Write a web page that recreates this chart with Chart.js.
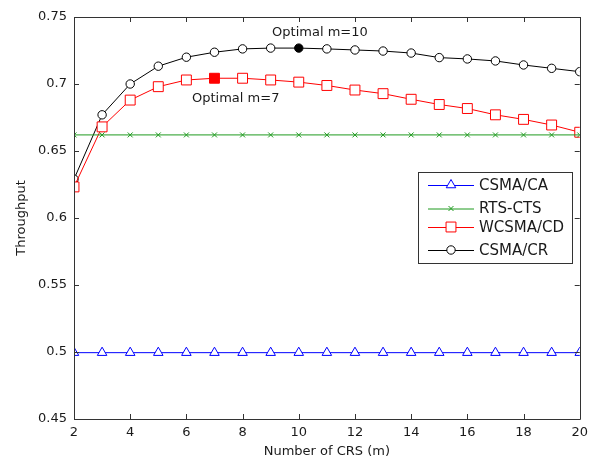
<!DOCTYPE html>
<html>
<head>
<meta charset="utf-8">
<script src="https://cdn.jsdelivr.net/npm/chart.js@4"></script>
<style>
  html, body { margin: 0; padding: 0; background: #fff; }
  #throughput-chart { display: block; }
</style>
</head>
<body>
<canvas id="throughput-chart" width="594" height="459"></canvas>
<script>
// number of CRS (m) on the x axis
const mValues = [2, 3, 4, 5, 6, 7, 8, 9, 10, 11, 12, 13, 14, 15, 16, 17, 18, 19, 20];

const csmaCA  = [0.4995, 0.4995, 0.4995, 0.4995, 0.4995, 0.4995, 0.4995, 0.4995, 0.4995, 0.4995,
                 0.4995, 0.4995, 0.4995, 0.4995, 0.4995, 0.4995, 0.4995, 0.4995, 0.4995];
const rtsCTS  = [0.662, 0.662, 0.662, 0.662, 0.662, 0.662, 0.662, 0.662, 0.662, 0.662,
                 0.662, 0.662, 0.662, 0.662, 0.662, 0.662, 0.662, 0.662, 0.662];
const wcsmaCD = [0.6232, 0.668, 0.688, 0.698, 0.703, 0.7043, 0.7043, 0.703, 0.7014, 0.6989,
                 0.6955, 0.6928, 0.6886, 0.6847, 0.6817, 0.677, 0.6736, 0.6694, 0.664];
const csmaCR  = [0.629, 0.677, 0.700, 0.7133, 0.720, 0.7237, 0.7262, 0.7268, 0.7268, 0.7262,
                 0.7254, 0.7246, 0.7231, 0.7197, 0.7187, 0.7172, 0.7142, 0.7117, 0.7092];

const optimalCD = 7;
const optimalCR = 10;

const xTicks = [2, 4, 6, 8, 10, 12, 14, 16, 18, 20];
const yTicks = [0.45, 0.5, 0.55, 0.6, 0.65, 0.7, 0.75];

const notes = [
    { x: 9.05, y: 0.7386, text: "Optimal m=10" },
    { x: 6.2, y: 0.6893, text: "Optimal m=7" }
];

const FONT = "'DejaVu Sans', Verdana, sans-serif";
const AXIS_COLOR = "#333333";
const TEXT_COLOR = "#1a1a1a";

function toPoints(values) {
    return values.map((v, i) => ({ x: mValues[i], y: v }));
}

function fillAt(optimal, color) {
    return mValues.map(m => m === optimal ? color : "#ffffff");
}

const series = [
    { label: "CSMA/CA",  data: csmaCA,  color: "#0000ff", style: "triangle", radius: 5.5 },
    { label: "RTS-CTS",  data: rtsCTS,  color: "#1f9a1f", style: "crossRot", radius: 3.5 },
    { label: "WCSMA/CD", data: wcsmaCD, color: "#ff0000", style: "rect",     radius: 7, optimal: optimalCD },
    { label: "CSMA/CR",  data: csmaCR,  color: "#000000", style: "circle",   radius: 4.2, optimal: optimalCR }
];

const datasets = series.map(s => ({
    label: s.label,
    data: toPoints(s.data),
    borderColor: s.color,
    borderWidth: 1,
    pointStyle: s.style,
    pointRadius: s.radius,
    pointBorderColor: s.color,
    pointBorderWidth: 1,
    pointBackgroundColor: s.optimal ? fillAt(s.optimal, s.color) : "#ffffff",
    fill: false,
    tension: 0
}));

// box round the plot with inward ticks on all four sides (MATLAB look)
const boxTicks = {
    id: "boxTicks",
    afterDatasetsDraw(chart) {
        const { ctx, chartArea: a, scales } = chart;
        const len = 5;
        ctx.save();
        ctx.strokeStyle = AXIS_COLOR;
        ctx.lineWidth = 1;
        ctx.beginPath();
        ctx.rect(Math.round(a.left) + 0.5, Math.round(a.top) + 0.5,
                 Math.round(a.right - a.left), Math.round(a.bottom - a.top));
        xTicks.forEach(t => {
            const px = Math.round(scales.x.getPixelForValue(t)) + 0.5;
            ctx.moveTo(px, a.bottom); ctx.lineTo(px, a.bottom - len);
            ctx.moveTo(px, a.top);    ctx.lineTo(px, a.top + len);
        });
        yTicks.forEach(t => {
            const py = Math.round(scales.y.getPixelForValue(t)) + 0.5;
            ctx.moveTo(a.left, py);  ctx.lineTo(a.left + len, py);
            ctx.moveTo(a.right, py); ctx.lineTo(a.right - len, py);
        });
        ctx.stroke();

        // text notes
        ctx.fillStyle = TEXT_COLOR;
        ctx.font = "13px " + FONT;
        ctx.textAlign = "left";
        ctx.textBaseline = "middle";
        notes.forEach(n => {
            ctx.fillText(n.text, scales.x.getPixelForValue(n.x), scales.y.getPixelForValue(n.y));
        });
        ctx.restore();
    }
};

// legend box inside the plot, right side
const boxLegend = {
    id: "boxLegend",
    afterDraw(chart) {
        const { ctx, chartArea: a } = chart;
        const w = 154, h = 91;
        const left = Math.round(a.right - 8 - w);
        const top = Math.round(a.top + 155);
        ctx.save();
        ctx.fillStyle = "#fff";
        ctx.fillRect(left, top, w, h);
        ctx.strokeStyle = AXIS_COLOR;
        ctx.lineWidth = 1;
        ctx.strokeRect(left + 0.5, top + 0.5, w, h);
        ctx.font = "15px " + FONT;
        ctx.textBaseline = "middle";
        ctx.textAlign = "left";
        const rowY = [13, 36.5, 55, 78];
        chart.data.datasets.forEach((ds, i) => {
            const y = top + rowY[i];
            ctx.strokeStyle = ds.borderColor;
            ctx.beginPath();
            ctx.moveTo(left + 10, y + 0.5);
            ctx.lineTo(left + 56, y + 0.5);
            ctx.stroke();
            ctx.fillStyle = "#fff";
            ctx.lineWidth = 1;
            Chart.helpers.drawPoint(ctx, {
                pointStyle: ds.pointStyle,
                radius: ds.pointRadius,
                borderWidth: 1,
                rotation: 0
            }, left + 33, y);
            ctx.fillStyle = TEXT_COLOR;
            ctx.fillText(ds.label, left + 61, y + 1);
        });
        ctx.restore();
    }
};

new Chart(document.getElementById("throughput-chart"), {
    type: "line",
    data: { datasets },
    options: {
        responsive: false,
        animation: false,
        devicePixelRatio: 1,
        layout: { padding: { left: 0, right: 11, top: 17, bottom: 0 } },
        plugins: {
            legend: { display: false },
            tooltip: { enabled: false }
        },
        scales: {
            x: {
                type: "linear",
                min: 2,
                max: 20,
                afterFit: s => { s.height = 40; },
                afterBuildTicks: s => { s.ticks = xTicks.map(v => ({ value: v })); },
                grid: { display: false, drawTicks: false },
                border: { display: false },
                ticks: {
                    padding: 6,
                    color: TEXT_COLOR,
                    font: { family: FONT, size: 13 },
                    maxRotation: 0
                },
                title: {
                    display: true,
                    text: "Number of CRS (m)",
                    color: TEXT_COLOR,
                    font: { family: FONT, size: 13 },
                    padding: { top: 2, bottom: 0 }
                }
            },
            y: {
                min: 0.45,
                max: 0.75,
                afterFit: s => { s.width = 74; },
                afterBuildTicks: s => { s.ticks = yTicks.map(v => ({ value: v })); },
                grid: { display: false, drawTicks: false },
                border: { display: false },
                ticks: {
                    padding: 7,
                    color: TEXT_COLOR,
                    font: { family: FONT, size: 13 },
                    callback: v => String(Number(v.toFixed(2)))
                },
                title: {
                    display: true,
                    text: "Throughput",
                    color: TEXT_COLOR,
                    font: { family: FONT, size: 13 },
                    padding: { top: 14, bottom: 0 }
                }
            }
        }
    },
    plugins: [boxTicks, boxLegend]
});
</script>
</body>
</html>
